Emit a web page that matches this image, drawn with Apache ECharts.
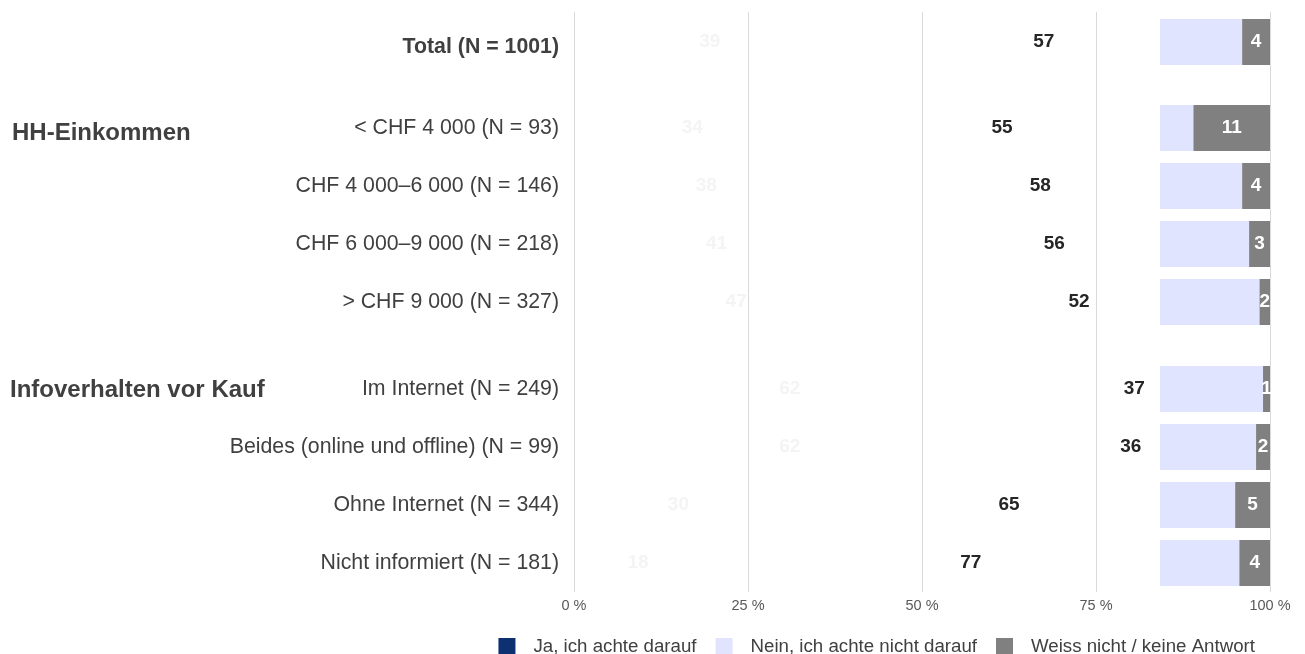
<html>
<head>
    <meta charset="UTF-8">
    <title>Achten Sie darauf?</title>
    <script src="https://cdn.jsdelivr.net/npm/echarts@6/dist/echarts.min.js"></script>
    <style>
        body { margin: 0; background: #fff; }
    </style>
</head>

<body>
    <div id="container" style="width: 1305px;height:654px;"></div>
</body>

<script>
    // Zeilen pro Block
    var totalRows = ['Total (N = 1001)'];
    var incomeRows = ['< CHF 4 000 (N = 93)', 'CHF 4 000–6 000 (N = 146)', 'CHF 6 000–9 000 (N = 218)', '> CHF 9 000 (N = 327)'];
    var infoRows = ['Im Internet (N = 249)', 'Beides (online und offline) (N = 99)', 'Ohne Internet (N = 344)', 'Nicht informiert (N = 181)'];
    var headings = ['', 'HH-Einkommen', 'Infoverhalten vor Kauf'];

    // Werte in %, Reihenfolge: Total, Einkommen (4), Infoverhalten (4)
    var ja = [39, 34, 38, 41, 46.6, 62, 62, 30, 18.4];
    var nein = [57, 55, 58, 56, 51.9, 37, 36, 65, 77.2];
    var weiss = [4, 11, 4, 3, 1.5, 1, 2, 5, 4.4];

    var seriesNames = ['Ja, ich achte darauf', 'Nein, ich achte nicht darauf', 'Weiss nicht / keine Antwort'];
    var seriesColors = ['#0c3070', '#e0e4fe', '#808080'];
    var tickLabels = ['0 %', '25 %', '50 %', '75 %', '100 %'];

    var font = 'Liberation Sans';
    var W = 1305;
    var cut = 1160; // ab hier sind die Balken sichtbar

    function fade(color) {
        return {
            type: 'linear', x: 0, y: 0, x2: W, y2: 0, global: true,
            colorStops: [
                { offset: 0, color: 'rgba(255,255,255,0)' },
                { offset: (cut - 0.5) / W, color: 'rgba(255,255,255,0)' },
                { offset: cut / W, color: color },
                { offset: 1, color: color }
            ]
        };
    }

    var blocks = [
        { rows: totalRows, start: 0, top: 13 },
        { rows: incomeRows, start: 1, top: 99 },
        { rows: infoRows, start: 5, top: 360 }
    ];
    var rowH = 58;

    var grids = [{ left: 574, right: 35, top: 12, bottom: 62 }];
    var xAxes = [{
        gridIndex: 0, type: 'value', min: 0, max: 100, interval: 25,
        axisLine: { show: false }, axisTick: { show: false },
        splitLine: { lineStyle: { color: '#d9d9d9', width: 1 } },
        axisLabel: {
            margin: 6, color: '#595959', fontSize: 14.5, fontFamily: font,
            formatter: function (v) { return tickLabels[v / 25]; }
        }
    }];
    var yAxes = [{ gridIndex: 0, type: 'category', data: [], show: false }];
    var series = [];

    blocks.forEach(function (b, bi) {
        var gi = bi + 1;
        grids.push({ left: 574, right: 35, top: b.top, height: b.rows.length * rowH });
        xAxes.push({ gridIndex: gi, type: 'value', min: 0, max: 100, show: false });
        yAxes.push({
            gridIndex: gi, type: 'category', inverse: true, data: b.rows,
            axisLine: { show: false }, axisTick: { show: false },
            axisLabel: {
                margin: 15, fontSize: 21.3, fontFamily: font, color: '#404040',
                fontWeight: bi === 0 ? 'bold' : 'normal',
                formatter: bi === 0 ? '{t|{value}}' : '{value}',
                rich: {
                    t: { padding: [11, 0, 0, 0], fontWeight: 'bold', fontSize: 21.3, fontFamily: font, color: '#404040' }
                }
            }
        });
        var n = b.rows.length;
        var parts = [ja.slice(b.start, b.start + n), nein.slice(b.start, b.start + n), weiss.slice(b.start, b.start + n)];
        var labelColors = ['#f4f4f4', '#262626', '#ffffff'];
        parts.forEach(function (vals, si) {
            series.push({
                name: seriesNames[si],
                type: 'bar',
                stack: 'g' + gi,
                xAxisIndex: gi,
                yAxisIndex: gi,
                barWidth: 46,
                data: vals,
                itemStyle: { color: si === 2 ? seriesColors[2] : fade(seriesColors[si]) },
                label: {
                    show: true, position: 'inside',
                    color: labelColors[si], fontWeight: 'bold', fontSize: 19, fontFamily: font,
                    formatter: function (p) { return Math.round(p.value); }
                },
                emphasis: { disabled: true },
                animation: false
            });
        });
    });

    var mycharts = echarts.init(document.getElementById('container'));
    var option = {
        backgroundColor: '#fff',
        animation: false,
        grid: grids,
        xAxis: xAxes,
        yAxis: yAxes,
        legend: {
            right: 45, top: 632,
            itemWidth: 17, itemHeight: 17, itemGap: 19,
            icon: 'rect',
            selectedMode: false,
            textStyle: { fontSize: 18.7, fontFamily: font, color: '#404040', padding: [0, 0, 0, 13] },
            data: seriesNames.map(function (nm, i) {
                return { name: nm, itemStyle: { color: seriesColors[i] } };
            })
        },
        graphic: [
            {
                type: 'text', left: 12, top: 121,
                style: { text: headings[1], font: 'bold 24px "Liberation Sans"', fill: '#404040' }
            },
            {
                type: 'text', left: 10, top: 378,
                style: { text: headings[2], font: 'bold 24px "Liberation Sans"', fill: '#404040' }
            }
        ],
        series: series
    };
    mycharts.setOption(option);
</script>
</html>
